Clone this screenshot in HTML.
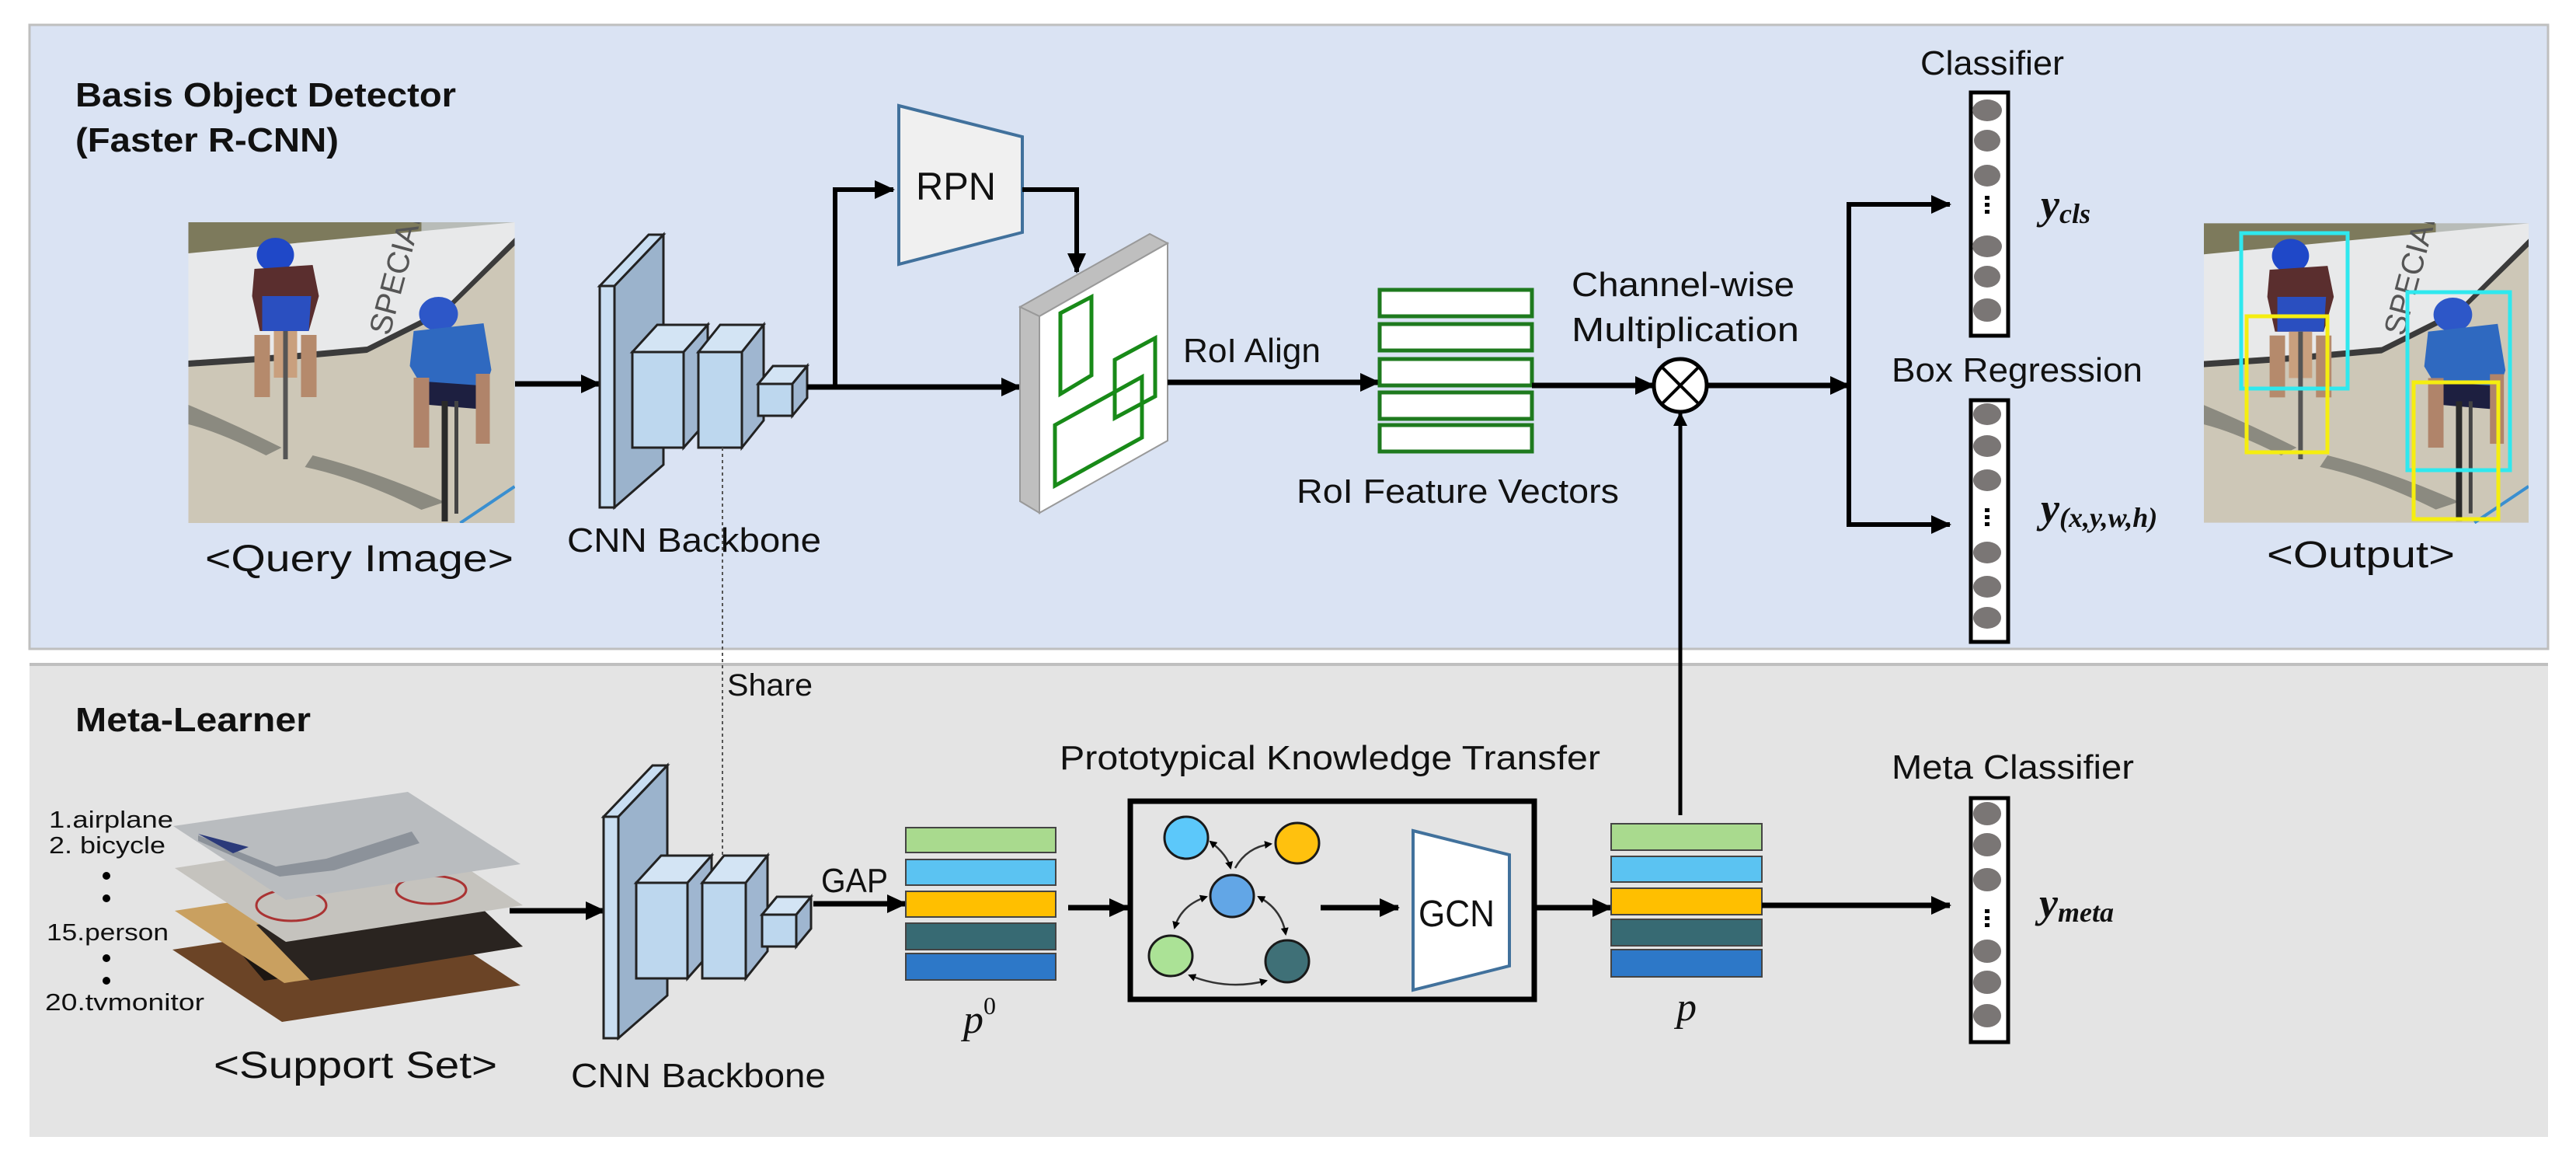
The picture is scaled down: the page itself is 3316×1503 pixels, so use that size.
<!DOCTYPE html>
<html><head><meta charset="utf-8"><style>
html,body{margin:0;padding:0;background:#fff;}
svg{display:block;}
text{font-family:"Liberation Sans",sans-serif;fill:#111;}
.m{font-family:"Liberation Serif",serif;font-style:italic;font-weight:bold;}
</style></head><body>
<svg width="3316" height="1503" viewBox="0 0 3316 1503" xmlns="http://www.w3.org/2000/svg">
<defs>
<marker id="ah" markerWidth="26" markerHeight="24" refX="24" refY="12" orient="auto" markerUnits="userSpaceOnUse">
<path d="M0,0 L26,12 L0,24 z" fill="#000"/></marker>
<marker id="sh" markerWidth="10" markerHeight="10" refX="8" refY="5" orient="auto-start-reverse" markerUnits="userSpaceOnUse">
<path d="M0,0 L10,5 L0,10 z" fill="#000"/></marker>
<marker id="uh" markerWidth="18" markerHeight="18" refX="16" refY="9" orient="auto" markerUnits="userSpaceOnUse">
<path d="M0,0 L18,9 L0,18 z" fill="#000"/></marker>
<symbol id="photo" viewBox="0 0 420 387">
<rect width="420" height="387" fill="#cdc7b7"/>
<polygon points="0,0 300,0 300,15 0,45" fill="#7d7a5c"/>
<polygon points="300,0 420,0 420,20 300,40" fill="#b8bcb8"/>
<polygon points="0,40 420,0 420,20 330,110 230,160 120,170 0,178" fill="#e8e9ea"/>
<polygon points="0,178 120,170 230,160 330,110 420,20 420,30 330,118 230,168 120,178 0,186" fill="#3b3b3b"/>
<text x="215" y="150" font-size="40" transform="rotate(-75 235 120)" style="fill:#555">SPECIALI</text>
<path d="M0,235 Q60,260 120,290 L100,300 Q40,270 0,260z" fill="#8b8a80"/>
<path d="M160,300 Q240,320 330,360 L300,370 Q220,330 150,315z" fill="#8b8a80"/>
<line x1="350" y1="387" x2="420" y2="340" stroke="#3a8fd0" stroke-width="4"/>
<ellipse cx="112" cy="42" rx="24" ry="22" fill="#1f48c8"/>
<path d="M85,60 L160,55 L168,95 L155,140 L92,140 L82,95z" fill="#5a2e2e"/>
<path d="M95,95 L158,95 L155,140 L95,140z" fill="#2a4fc0"/>
<rect x="110" y="140" width="30" height="60" fill="#c9a07e"/>
<line x1="125" y1="140" x2="125" y2="305" stroke="#555" stroke-width="6"/>
<rect x="85" y="145" width="20" height="80" fill="#b58a6c"/>
<rect x="145" y="145" width="20" height="80" fill="#b58a6c"/>
<ellipse cx="322" cy="118" rx="25" ry="22" fill="#2d57c8"/>
<path d="M290,140 L380,130 L390,190 L380,220 L300,210 L285,185z" fill="#2f69c0"/>
<path d="M305,205 L375,210 L370,240 L310,235z" fill="#1d1f40"/>
<rect x="290" y="200" width="20" height="90" fill="#b0846a"/>
<rect x="370" y="195" width="18" height="90" fill="#b0846a"/>
<line x1="330" y1="230" x2="330" y2="385" stroke="#2a2a2a" stroke-width="8"/>
<line x1="345" y1="230" x2="345" y2="375" stroke="#444" stroke-width="5"/>
</symbol>
<g id="cnn">
<rect x="772" y="368" width="19" height="285" fill="#c9def2" stroke="#222" stroke-width="3"/>
<polygon points="772,368 835,302 854,302 791,368" fill="#c9def2" stroke="#222" stroke-width="3"/>
<polygon points="791,368 854,302 854,598 791,653" fill="#9bb3cc" stroke="#222" stroke-width="3"/>
<polygon points="814,453 846,418 911,418 880,453" fill="#d3e4f4" stroke="#222" stroke-width="3"/>
<polygon points="880,453 911,418 911,541 880,576" fill="#9fb6d0" stroke="#222" stroke-width="3"/>
<rect x="814" y="453" width="66" height="123" fill="#bdd7ee" stroke="#222" stroke-width="3"/>
<polygon points="899,453 927,418 983,418 955,453" fill="#d3e4f4" stroke="#222" stroke-width="3"/>
<polygon points="955,453 983,418 983,541 955,576" fill="#9fb6d0" stroke="#222" stroke-width="3"/>
<rect x="899" y="453" width="56" height="123" fill="#bdd7ee" stroke="#222" stroke-width="3"/>
<polygon points="976,494 995,471 1039,471 1020,494" fill="#d3e4f4" stroke="#222" stroke-width="3"/>
<polygon points="1020,494 1039,471 1039,512 1020,535" fill="#9fb6d0" stroke="#222" stroke-width="3"/>
<rect x="976" y="494" width="44" height="41" fill="#bdd7ee" stroke="#222" stroke-width="3"/>
</g>
</defs>

<rect x="38" y="32" width="3242" height="803" fill="#dae3f3" stroke="#bfbfbf" stroke-width="3"/>
<rect x="38" y="855" width="3242" height="608" fill="#e4e4e4"/>
<line x1="38" y1="855" x2="3280" y2="855" stroke="#bfbfbf" stroke-width="4"/>

<text x="97" y="137" font-size="44" font-weight="bold" textLength="490" lengthAdjust="spacingAndGlyphs">Basis Object Detector</text>
<text x="97" y="195" font-size="44" font-weight="bold" textLength="339" lengthAdjust="spacingAndGlyphs">(Faster R-CNN)</text>

<use href="#photo" x="242" y="286" width="421" height="387"/>
<text x="264" y="735" font-size="48" textLength="397" lengthAdjust="spacingAndGlyphs">&lt;Query Image&gt;</text>

<line x1="663" y1="494" x2="772" y2="494" stroke="#000" stroke-width="7" marker-end="url(#ah)"/>
<use href="#cnn"/>
<text x="730" y="710" font-size="44" textLength="327" lengthAdjust="spacingAndGlyphs">CNN Backbone</text>

<line x1="930" y1="576" x2="930" y2="1101" stroke="#555" stroke-width="2" stroke-dasharray="4,4"/>

<line x1="1039" y1="498" x2="1313" y2="498" stroke="#000" stroke-width="7" marker-end="url(#ah)"/>
<polyline points="1075,498 1075,244 1150,244" fill="none" stroke="#000" stroke-width="6" marker-end="url(#ah)"/>
<polygon points="1157,136 1316,176 1316,299 1157,340" fill="#f0f0f0" stroke="#41719c" stroke-width="4"/>
<text x="1179" y="257" font-size="50" textLength="103" lengthAdjust="spacingAndGlyphs">RPN</text>
<polyline points="1316,244 1386,244 1386,350" fill="none" stroke="#000" stroke-width="6" marker-end="url(#ah)"/>

<polygon points="1313,395 1480,301 1503,313 1338,407" fill="#bfbfbf" stroke="#999" stroke-width="2"/>
<polygon points="1313,395 1338,407 1338,660 1313,645" fill="#bfbfbf" stroke="#999" stroke-width="2"/>
<polygon points="1338,407 1503,313 1503,567 1338,660" fill="#fff" stroke="#999" stroke-width="2"/>
<polygon points="1365,403 1405,382 1405,483 1365,507" fill="none" stroke="#188a18" stroke-width="5"/>
<polygon points="1435,463 1487,435 1487,510 1435,538" fill="none" stroke="#188a18" stroke-width="5"/>
<polygon points="1358,547 1470,485 1470,563 1358,625" fill="none" stroke="#188a18" stroke-width="5"/>

<line x1="1503" y1="492" x2="1775" y2="492" stroke="#000" stroke-width="7" marker-end="url(#ah)"/>
<text x="1523" y="466" font-size="44" textLength="177" lengthAdjust="spacingAndGlyphs">RoI Align</text>

<g fill="#fff" stroke="#1e7a1e" stroke-width="5">
<rect x="1776" y="373" width="196" height="34"/>
<rect x="1776" y="417" width="196" height="34"/>
<rect x="1776" y="462" width="196" height="34"/>
<rect x="1776" y="505" width="196" height="34"/>
<rect x="1776" y="547" width="196" height="34"/>
</g>
<text x="1669" y="647" font-size="44" textLength="415" lengthAdjust="spacingAndGlyphs">RoI Feature Vectors</text>

<line x1="1972" y1="496" x2="2129" y2="496" stroke="#000" stroke-width="7" marker-end="url(#ah)"/>
<circle cx="2163" cy="496" r="34" fill="#fff" stroke="#000" stroke-width="5"/>
<line x1="2139" y1="472" x2="2187" y2="520" stroke="#000" stroke-width="4"/>
<line x1="2187" y1="472" x2="2139" y2="520" stroke="#000" stroke-width="4"/>
<text x="2023" y="381" font-size="44" textLength="287" lengthAdjust="spacingAndGlyphs">Channel-wise</text>
<text x="2023" y="439" font-size="44" textLength="293" lengthAdjust="spacingAndGlyphs">Multiplication</text>

<line x1="2197" y1="496" x2="2380" y2="496" stroke="#000" stroke-width="7" marker-end="url(#ah)"/>
<polyline points="2500,263 2380,263 2380,675 2500,675" fill="none" stroke="#000" stroke-width="6"/>
<line x1="2380" y1="263" x2="2510" y2="263" stroke="#000" stroke-width="6" marker-end="url(#ah)"/>
<line x1="2380" y1="675" x2="2510" y2="675" stroke="#000" stroke-width="6" marker-end="url(#ah)"/>

<line x1="2163" y1="1049" x2="2163" y2="532" stroke="#000" stroke-width="5" marker-end="url(#uh)"/>

<text x="2472" y="96" font-size="44" textLength="185" lengthAdjust="spacingAndGlyphs">Classifier</text>
<text x="2435" y="491" font-size="44" textLength="323" lengthAdjust="spacingAndGlyphs">Box Regression</text>

<rect x="2537" y="119" width="48" height="313" fill="#fff" stroke="#000" stroke-width="5"/>
<g fill="#7a7675">
<ellipse cx="2558" cy="142" rx="19" ry="14"/><ellipse cx="2558" cy="181" rx="17" ry="14"/><ellipse cx="2558" cy="226" rx="17" ry="14"/>
<ellipse cx="2558" cy="317" rx="19" ry="14"/><ellipse cx="2558" cy="356" rx="17" ry="14"/><ellipse cx="2558" cy="399" rx="18" ry="15"/>
</g>
<g fill="#000"><rect x="2555" y="252" width="6" height="5"/><rect x="2555" y="261" width="6" height="5"/><rect x="2555" y="270" width="6" height="5"/></g>
<text class="m" x="2627" y="281" font-size="54">y<tspan font-size="36" dy="6">cls</tspan></text>

<rect x="2537" y="515" width="48" height="311" fill="#fff" stroke="#000" stroke-width="5"/>
<g fill="#7a7675">
<ellipse cx="2558" cy="533" rx="18" ry="14"/><ellipse cx="2558" cy="574" rx="18" ry="14"/><ellipse cx="2558" cy="618" rx="18" ry="14"/>
<ellipse cx="2558" cy="711" rx="18" ry="14"/><ellipse cx="2558" cy="755" rx="18" ry="14"/><ellipse cx="2558" cy="795" rx="18" ry="14"/>
</g>
<g fill="#000"><rect x="2555" y="654" width="6" height="5"/><rect x="2555" y="663" width="6" height="5"/><rect x="2555" y="672" width="6" height="5"/></g>
<text class="m" x="2627" y="672" font-size="54">y<tspan font-size="36" dy="6">(x,y,w,h)</tspan></text>

<use href="#photo" x="2837" y="286" width="418" height="388"/>
<rect x="2885" y="300" width="137" height="200" fill="none" stroke="#2fe8ee" stroke-width="5"/>
<rect x="3099" y="376" width="132" height="229" fill="none" stroke="#2fe8ee" stroke-width="5"/>
<rect x="2892" y="407" width="104" height="175" fill="none" stroke="#f5ee10" stroke-width="5"/>
<rect x="3107" y="492" width="109" height="176" fill="none" stroke="#f5ee10" stroke-width="5"/>
<text x="2918" y="730" font-size="48" textLength="242" lengthAdjust="spacingAndGlyphs">&lt;Output&gt;</text>

<text x="97" y="941" font-size="44" font-weight="bold" textLength="303" lengthAdjust="spacingAndGlyphs">Meta-Learner</text>
<text x="936" y="895" font-size="40" textLength="110" lengthAdjust="spacingAndGlyphs">Share</text>

<g font-size="31">
<text x="63" y="1065" textLength="160" lengthAdjust="spacingAndGlyphs">1.airplane</text>
<text x="63" y="1098" textLength="150" lengthAdjust="spacingAndGlyphs">2. bicycle</text>
<text x="60" y="1210" textLength="157" lengthAdjust="spacingAndGlyphs">15.person</text>
<text x="58" y="1300" textLength="205" lengthAdjust="spacingAndGlyphs">20.tvmonitor</text>
</g>
<g fill="#000"><circle cx="137" cy="1127" r="5"/><circle cx="137" cy="1156" r="5"/><circle cx="137" cy="1233" r="5"/><circle cx="137" cy="1262" r="5"/></g>

<polygon points="222,1222 529,1175 670,1268 363,1315" fill="#6b4426"/>
<polygon points="300,1215 520,1185 560,1230 340,1262" fill="#1c1612"/>
<polygon points="225,1172 532,1125 673,1218 366,1265" fill="#c9a060"/>
<polygon points="330,1190 600,1150 673,1218 400,1262" fill="#2a2420"/>
<polygon points="225,1117 530,1070 673,1165 368,1212" fill="#c5c3be"/>
<ellipse cx="375" cy="1165" rx="45" ry="20" fill="none" stroke="#a33" stroke-width="3"/>
<ellipse cx="555" cy="1145" rx="45" ry="18" fill="none" stroke="#a33" stroke-width="3"/>
<polygon points="223,1063 525,1019 670,1112 368,1158" fill="#b9bcbf"/>
<path d="M255,1075 L355,1115 L420,1105 L530,1070 L540,1085 L430,1120 L360,1128 L255,1082z" fill="#8c929a"/>
<path d="M255,1073 L320,1090 L300,1098 Z" fill="#2b3a7a"/>

<text x="275" y="1387" font-size="48" textLength="365" lengthAdjust="spacingAndGlyphs">&lt;Support Set&gt;</text>

<line x1="656" y1="1172" x2="778" y2="1172" stroke="#000" stroke-width="7" marker-end="url(#ah)"/>
<use href="#cnn" transform="translate(5,683)"/>
<text x="735" y="1399" font-size="44" textLength="328" lengthAdjust="spacingAndGlyphs">CNN Backbone</text>

<line x1="1047" y1="1163" x2="1166" y2="1163" stroke="#000" stroke-width="7" marker-end="url(#ah)"/>
<text x="1057" y="1148" font-size="44" textLength="86" lengthAdjust="spacingAndGlyphs">GAP</text>

<g stroke="#444" stroke-width="2">
<rect x="1166" y="1065" width="193" height="32" fill="#a9da8e"/>
<rect x="1166" y="1106" width="193" height="33" fill="#5bc3f2"/>
<rect x="1166" y="1147" width="193" height="33" fill="#ffbf00"/>
<rect x="1166" y="1188" width="193" height="34" fill="#376a73"/>
<rect x="1166" y="1227" width="193" height="34" fill="#2d78c8"/>
</g>
<text x="1240" y="1329" font-size="52" style="font-family:'Liberation Serif',serif;font-style:italic">p<tspan font-size="32" dy="-24" style="font-style:normal">0</tspan></text>

<line x1="1375" y1="1168" x2="1452" y2="1168" stroke="#000" stroke-width="7" marker-end="url(#ah)"/>

<text x="1364" y="990" font-size="44" textLength="696" lengthAdjust="spacingAndGlyphs">Prototypical Knowledge Transfer</text>
<rect x="1455" y="1031" width="520" height="255" fill="none" stroke="#000" stroke-width="7"/>

<g fill="none" stroke="#333" stroke-width="2.5">
<path d="M1558,1083 Q1580,1100 1584,1117" marker-start="url(#sh)" marker-end="url(#sh)"/>
<path d="M1590,1117 Q1605,1090 1636,1086" marker-end="url(#sh)"/>
<path d="M1553,1154 Q1520,1165 1512,1194" marker-start="url(#sh)" marker-end="url(#sh)"/>
<path d="M1620,1154 Q1650,1170 1655,1202" marker-start="url(#sh)" marker-end="url(#sh)"/>
<path d="M1531,1255 Q1580,1275 1630,1262" marker-start="url(#sh)" marker-end="url(#sh)"/>
</g>
<g stroke="#1a1a1a" stroke-width="3">
<ellipse cx="1527" cy="1078" rx="28" ry="27" fill="#5cc8fa"/>
<ellipse cx="1670" cy="1085" rx="28" ry="26" fill="#ffc10e"/>
<ellipse cx="1586" cy="1153" rx="28" ry="27" fill="#62a6e6"/>
<ellipse cx="1507" cy="1230" rx="28" ry="26" fill="#abe296"/>
<ellipse cx="1657" cy="1237" rx="28" ry="27" fill="#3f7077"/>
</g>

<line x1="1700" y1="1168" x2="1800" y2="1168" stroke="#000" stroke-width="7" marker-end="url(#ah)"/>
<polygon points="1819,1069 1943,1100 1943,1243 1819,1274" fill="#fff" stroke="#41719c" stroke-width="4"/>
<text x="1826" y="1192" font-size="48" textLength="98" lengthAdjust="spacingAndGlyphs">GCN</text>

<line x1="1975" y1="1168" x2="2074" y2="1168" stroke="#000" stroke-width="7" marker-end="url(#ah)"/>

<g stroke="#444" stroke-width="2">
<rect x="2074" y="1060" width="194" height="34" fill="#a9da8e"/>
<rect x="2074" y="1102" width="194" height="33" fill="#5bc3f2"/>
<rect x="2074" y="1143" width="194" height="34" fill="#ffbf00"/>
<rect x="2074" y="1183" width="194" height="34" fill="#376a73"/>
<rect x="2074" y="1222" width="194" height="35" fill="#2d78c8"/>
</g>
<text x="2158" y="1313" font-size="52" style="font-family:'Liberation Serif',serif;font-style:italic">p</text>

<line x1="2268" y1="1165" x2="2510" y2="1165" stroke="#000" stroke-width="7" marker-end="url(#ah)"/>

<text x="2435" y="1002" font-size="44" textLength="312" lengthAdjust="spacingAndGlyphs">Meta Classifier</text>
<rect x="2537" y="1027" width="48" height="314" fill="#fff" stroke="#000" stroke-width="5"/>
<g fill="#7a7675">
<ellipse cx="2558" cy="1047" rx="18" ry="15"/><ellipse cx="2558" cy="1087" rx="18" ry="15"/><ellipse cx="2558" cy="1132" rx="18" ry="15"/>
<ellipse cx="2558" cy="1224" rx="18" ry="15"/><ellipse cx="2558" cy="1264" rx="18" ry="15"/><ellipse cx="2558" cy="1307" rx="18" ry="15"/>
</g>
<g fill="#000"><rect x="2555" y="1170" width="6" height="5"/><rect x="2555" y="1179" width="6" height="5"/><rect x="2555" y="1188" width="6" height="5"/></g>
<text class="m" x="2625" y="1180" font-size="54">y<tspan font-size="36" dy="6">meta</tspan></text>
</svg>
</body></html>
